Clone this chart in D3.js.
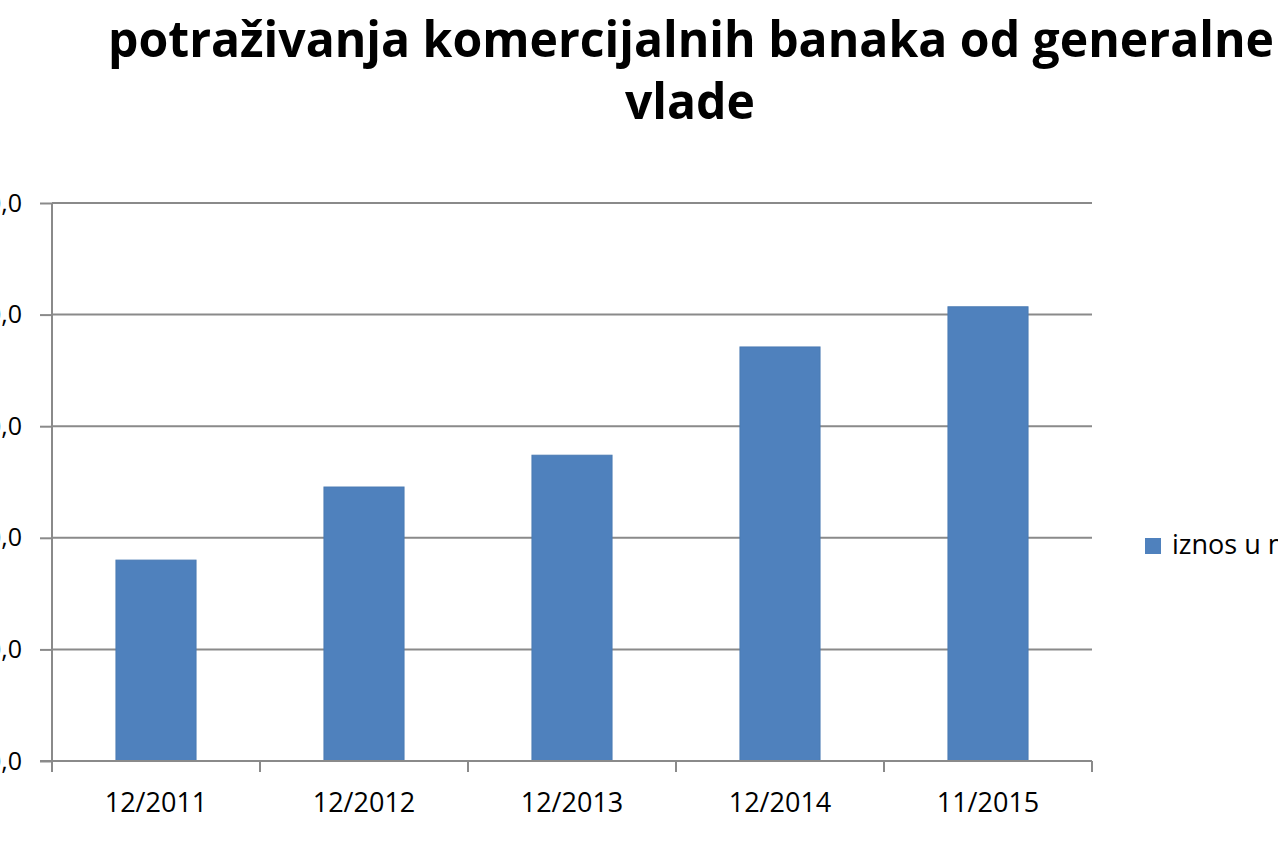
<!DOCTYPE html>
<html>
<head>
<meta charset="utf-8">
<script src="https://cdn.jsdelivr.net/npm/d3@7"></script>
<style>
  html, body { margin: 0; padding: 0; background: #fff; overflow: hidden; }
  svg { display: block; }
</style>
</head>
<body>
<div id="chart"></div>
<script>
// chart data
let categories = ["12/2011", "12/2012", "12/2013", "12/2014", "11/2015"]
let values = [360, 491, 548, 742, 814]
let yTicks = [0, 200, 400, 600, 800, 1000]
let yTickLabels = ["0,0", "200,0", "400,0", "600,0", "800,0", "1.000,0"]
let seriesName = "iznos u mlrd dinara"
let titleLines = ["potraživanja komercijalnih banaka od generalne", "vlade"]

let W = 1278, H = 853
let plotLeft = 52, plotRight = 1092, plotTop = 203, plotBottom = 761
let gridColor = "#8a8a8a"
let barColor = "#4f81bd"

let svg = d3.select("#chart").append("svg")
  .attr("width", W)
  .attr("height", H)

let x = d3.scaleBand()
  .domain(categories)
  .range([plotLeft, plotRight])
  .paddingInner(0.615)
  .paddingOuter(0.3075)

let y = d3.scaleLinear()
  .domain([0, 1000])
  .range([plotBottom, plotTop])

// title
svg.append("text")
   .attr("x", 691).attr("y", 57)
   .attr("text-anchor", "middle")
   .attr("textLength", 1166)
   .attr("lengthAdjust", "spacingAndGlyphs")
   .style("font-family", "'Open Sans', sans-serif")
   .style("font-weight", "bold")
   .style("font-size", "50px")
   .style("fill", "#000")
   .text(titleLines[0])

svg.append("text")
   .attr("x", 690).attr("y", 119)
   .attr("text-anchor", "middle")
   .attr("textLength", 130)
   .attr("lengthAdjust", "spacingAndGlyphs")
   .style("font-family", "'Open Sans', sans-serif")
   .style("font-weight", "bold")
   .style("font-size", "50px")
   .style("fill", "#000")
   .text(titleLines[1])

// gridlines
svg.append("g")
   .selectAll("line")
   .data(yTicks.slice(1))
   .join("line")
   .attr("x1", plotLeft).attr("x2", plotRight)
   .attr("y1", d => y(d)).attr("y2", d => y(d))
   .style("stroke", gridColor)
   .style("stroke-width", 2)

// bars
svg.append("g")
   .selectAll("rect")
   .data(values)
   .join("rect")
   .attr("x", (d, i) => x(categories[i]))
   .attr("y", d => y(d))
   .attr("width", x.bandwidth())
   .attr("height", d => y(0) - y(d))
   .style("fill", barColor)
   .style("stroke", "#4a7ab3")
   .style("stroke-width", 1)

// y axis
let yAxis = d3.axisLeft(y)
  .tickValues(yTicks)
  .tickFormat((d, i) => yTickLabels[i])
  .tickSize(12)
  .tickPadding(18)

let gy = svg.append("g")
  .attr("transform", "translate(" + plotLeft + ",0)")
  .call(yAxis)
gy.select(".domain").remove()
gy.append("line")
  .attr("x1", 0).attr("x2", 0)
  .attr("y1", plotTop).attr("y2", plotBottom + 10)
  .style("stroke", gridColor)
  .style("stroke-width", 2)
gy.selectAll(".tick line").style("stroke", gridColor).style("stroke-width", 2)
gy.selectAll(".tick text")
  .style("font-family", "'Open Sans', sans-serif")
  .style("font-size", "25px")
  .style("fill", "#000")

// x axis
let gx = svg.append("g")
  .attr("transform", "translate(0," + plotBottom + ")")
  .call(d3.axisBottom(x).tickSize(0).tickPadding(32))
gx.select(".domain").remove()
gx.append("line")
  .attr("x1", plotLeft - 12).attr("x2", plotRight)
  .style("stroke", gridColor)
  .style("stroke-width", 2)
gx.selectAll(".tick text")
  .style("font-family", "'Open Sans', sans-serif")
  .style("font-size", "27px")
  .style("fill", "#000")

// category boundary ticks
let bounds = d3.range(categories.length + 1).map(i => plotLeft + i * x.step())
gx.selectAll(".bound")
  .data(bounds)
  .join("line")
  .attr("class", "bound")
  .attr("x1", d => d).attr("x2", d => d)
  .attr("y1", 0).attr("y2", 11)
  .style("stroke", gridColor)
  .style("stroke-width", 2)

// legend
let lg = svg.append("g").attr("transform", "translate(1145,538)")
lg.append("rect")
  .attr("width", 16).attr("height", 16)
  .style("fill", barColor)
lg.append("text")
  .attr("x", 27).attr("y", 16)
  .style("font-family", "'Open Sans', sans-serif")
  .style("font-size", "27px")
  .style("fill", "#000")
  .text(seriesName)
</script>
</body>
</html>
